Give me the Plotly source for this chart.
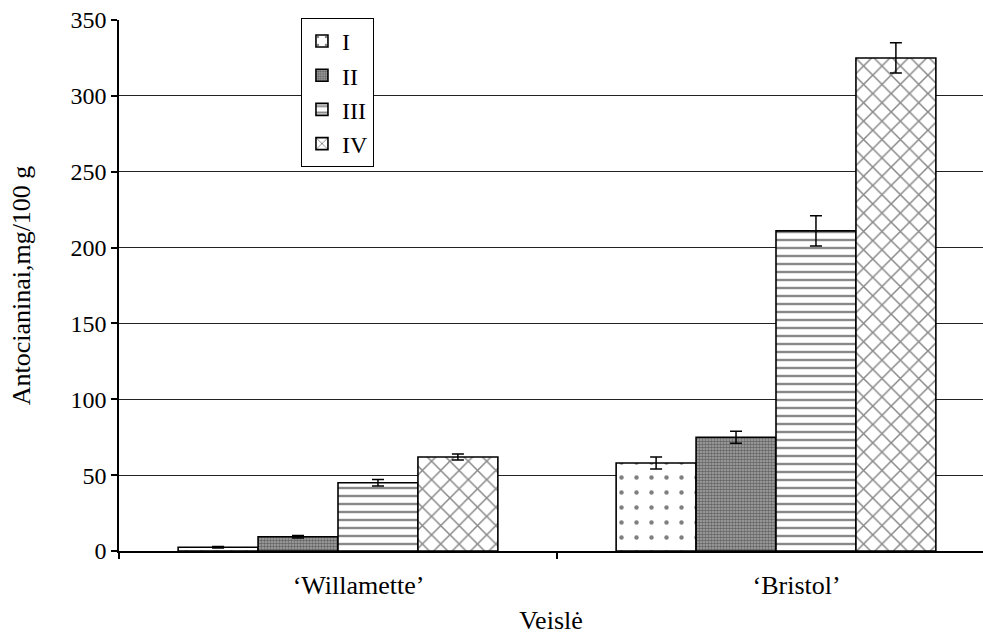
import plotly.graph_objects as go

# Anthocyanin content by cultivar and stage
cultivars = ["‘Willamette’", "‘Bristol’"]
stages = ["I", "II", "III", "IV"]
values_I = [2.5, 58]
values_II = [9.4, 75]
values_III = [45, 211]
values_IV = [62, 325]
err_I = [0.5, 4]
err_II = [0.8, 4]
err_III = [2.2, 10]
err_IV = [2, 10]

FONT = "'Liberation Serif', 'Times New Roman', serif"

series = [
    (values_I, err_I, dict(shape=".", size=15, solidity=0.07, fgcolor="black", bgcolor="white")),
    (values_II, err_II, dict(shape=".", size=3, solidity=0.55, fgcolor="#222", bgcolor="#a8a8a8")),
    (values_III, err_III, dict(shape="-", size=8, solidity=0.3, fgcolor="#111", bgcolor="white")),
    (values_IV, err_IV, dict(shape="x", size=13, solidity=0.22, fgcolor="#111", bgcolor="white")),
]

xpos = list(range(len(cultivars)))

fig = go.Figure()
for name, (vals, errs, pat) in zip(stages, series):
    fig.add_trace(go.Bar(
        name=name,
        x=xpos,
        y=vals,
        marker=dict(color="white", pattern=pat, line=dict(color="black", width=1.6)),
        error_y=dict(type="data", array=errs, visible=True, color="black", thickness=1.5, width=6),
    ))

label_shift = 0.047
fig.update_layout(
    width=983,
    height=640,
    margin=dict(l=119, r=0, t=20, b=89),
    paper_bgcolor="white",
    plot_bgcolor="white",
    barmode="group",
    bargap=0.27,
    bargroupgap=0,
    font=dict(family=FONT, size=24, color="black"),
    legend=dict(
        x=0.2106, y=1.004, xanchor="left", yanchor="top",
        bordercolor="black", borderwidth=1, bgcolor="white",
        font=dict(family=FONT, size=24), traceorder="normal",
        itemwidth=30, tracegroupgap=0,
    ),
    xaxis=dict(
        range=[-0.5, 1.4726],
        tickmode="array",
        tickvals=[x + label_shift for x in xpos],
        ticktext=cultivars,
        ticks="",
        ticklabelstandoff=10,
        showline=True, linecolor="black", linewidth=1.5,
        showgrid=False, zeroline=False,
        minor=dict(tickmode="array", tickvals=[-0.5, 0.5], ticks="outside",
                   ticklen=6, tickcolor="black", tickwidth=1.5, showgrid=False),
        title=dict(text="Veislė", font=dict(family=FONT, size=26), standoff=12),
        tickfont=dict(family=FONT, size=26),
    ),
    yaxis=dict(
        range=[0, 350],
        tickvals=[0, 50, 100, 150, 200, 250, 300, 350],
        ticks="outside", ticklen=6, tickcolor="black", tickwidth=1.5,
        showline=True, linecolor="black", linewidth=1.5,
        showgrid=True, gridcolor="#222", gridwidth=1,
        zeroline=False,
        title=dict(text="Antocianinai,mg/100 g", font=dict(family=FONT, size=26), standoff=32),
        tickfont=dict(family=FONT, size=24),
    ),
)

fig.write_html("out.html")
